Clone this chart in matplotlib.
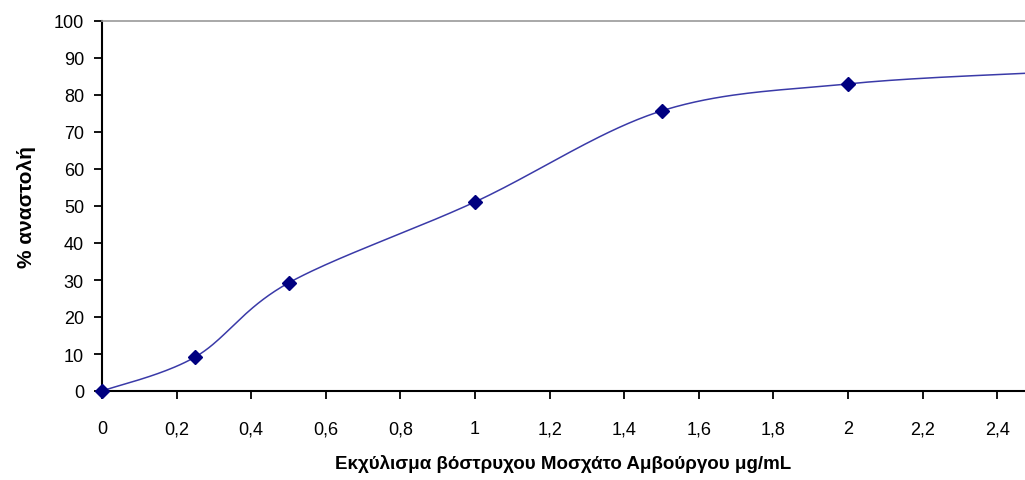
import numpy as np
import matplotlib.pyplot as plt
from matplotlib import font_manager

conc = [0, 0.25, 0.5, 1.0, 1.5, 2.0, 2.5]
inhibition = [0, 9.2, 29.2, 51.1, 75.7, 83.0, 86.0]

xticks = [0, 0.2, 0.4, 0.6, 0.8, 1.0, 1.2, 1.4, 1.6, 1.8, 2.0, 2.2, 2.4]
yticks = list(range(0, 101, 10))

names = {f.name for f in font_manager.fontManager.ttflist}
fam = 'Liberation Sans Narrow' if 'Liberation Sans Narrow' in names else 'Liberation Sans'
plt.rcParams['font.family'] = [fam, 'DejaVu Sans']


def smooth(xs, ys, n=40):
    # excel-like bezier smoothing through the points
    p = np.column_stack([xs, ys]).astype(float)
    out = [p[0]]
    for i in range(len(p) - 1):
        p0 = p[i - 1] if i > 0 else p[i]
        p3 = p[i + 2] if i + 2 < len(p) else p[i + 1]
        c1 = p[i] + (p[i + 1] - p0) / 6
        c2 = p[i + 1] - (p3 - p[i]) / 6
        t = np.linspace(0, 1, n)[1:, None]
        seg = ((1 - t) ** 3) * p[i] + 3 * ((1 - t) ** 2) * t * c1 + 3 * (1 - t) * t ** 2 * c2 + t ** 3 * p[i + 1]
        out.extend(seg)
    out = np.array(out)
    return out[:, 0], out[:, 1]


fig = plt.figure(figsize=(10.25, 4.81), dpi=100)
ax = fig.add_axes([102 / 1025, 1 - 392 / 481, 1 - 102 / 1025, 370 / 481])

sx, sy = smooth(conc, inhibition)
ax.plot(sx, sy, color='#3a3aa8', lw=1.1)
ax.plot(conc, inhibition, 'D', color='#000080', markersize=7, clip_on=False, zorder=3)

ax.set_xlim(0, (1025 - 102) / 373)
ax.set_ylim(0, 100)
ax.set_xticks(xticks)
ax.set_xticklabels([('%g' % v).replace('.', ',') for v in xticks])
ax.set_yticks(yticks)
ax.tick_params(direction='out', length=6, width=1.3, labelsize=13)
ax.tick_params(axis='x', pad=15)
ax.tick_params(axis='y', pad=7)

for s in ['left', 'bottom']:
    ax.spines[s].set_linewidth(1.5)
ax.spines['top'].set_color('#999999')
ax.spines['top'].set_linewidth(1.2)
ax.spines['right'].set_visible(False)

ax.set_xlabel('Εκχύλισμα βόστρυχου Μοσχάτο Αμβούργου μg/mL', fontsize=13.5, fontweight='bold', labelpad=12)
ax.set_ylabel('% αναστολή', fontsize=15, fontweight='bold', labelpad=13)

fig.savefig('out.png', dpi=100)
